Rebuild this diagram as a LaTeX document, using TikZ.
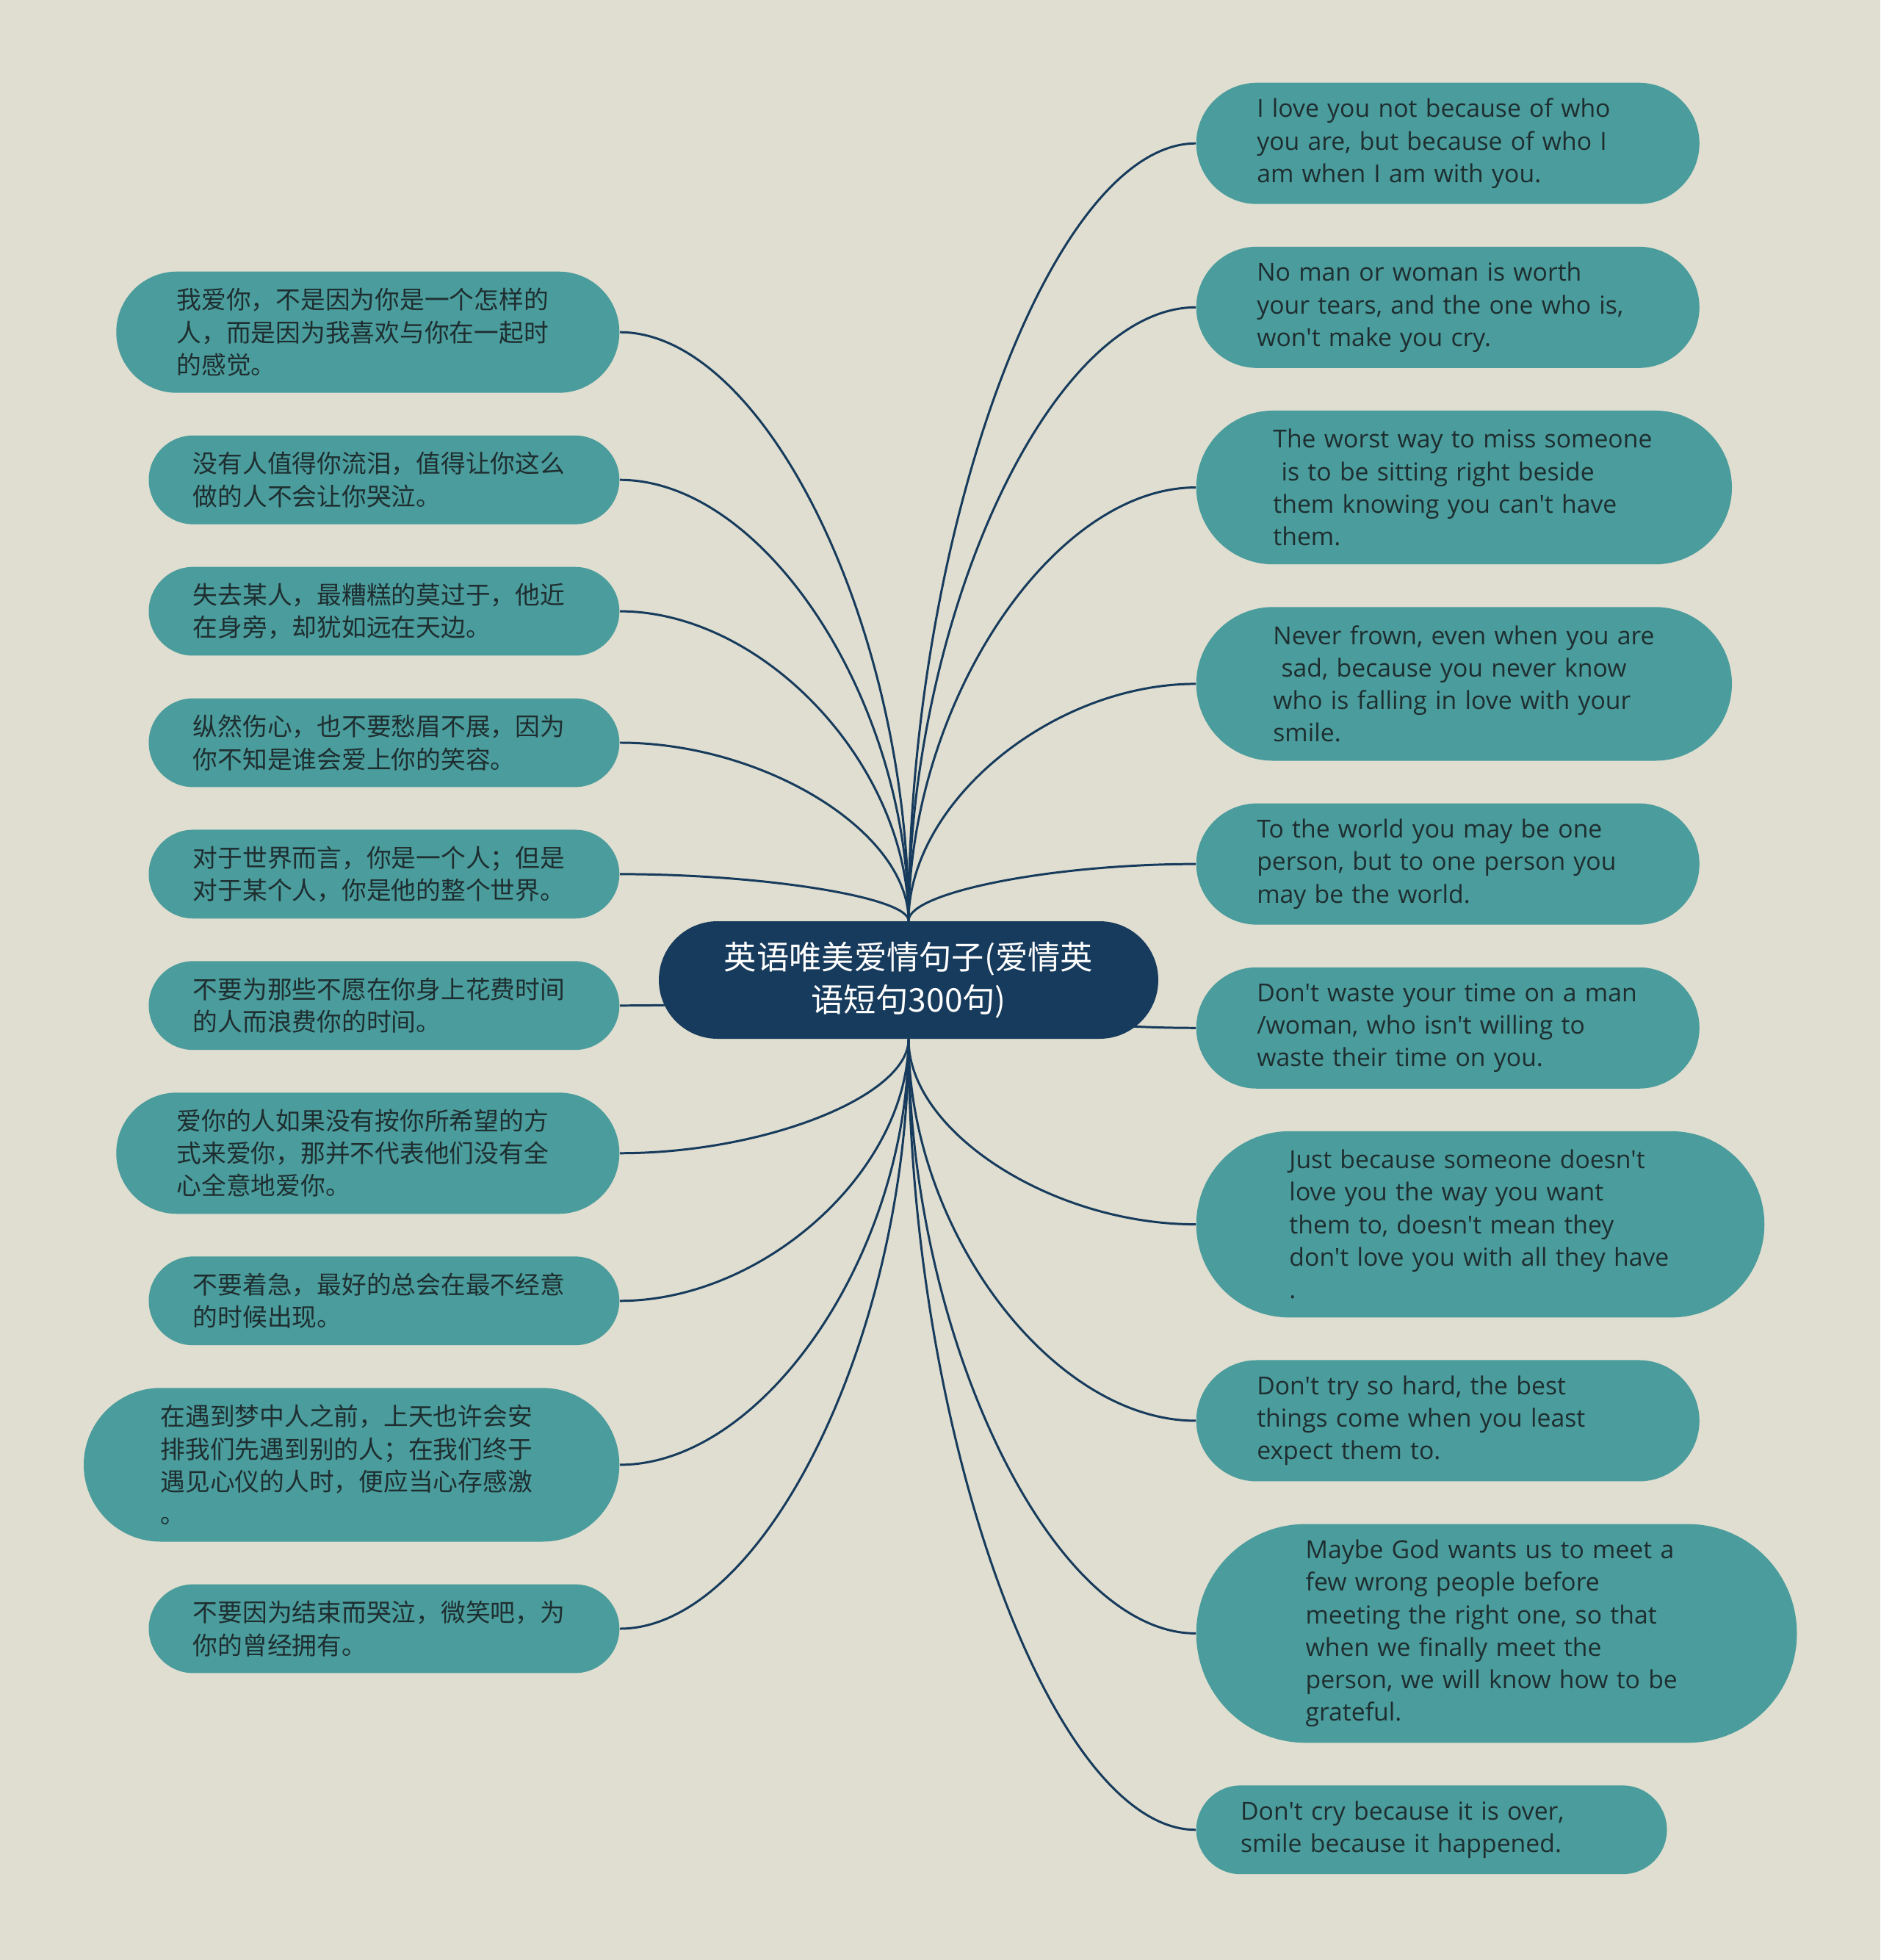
\documentclass[tikz,border=0pt]{standalone}
\usepackage{fontspec}
\setmainfont{Open Sans}[Ligatures=TeXOff]
\newfontfamily\cjk{Noto Sans CJK SC}
\usetikzlibrary{positioning,calc,backgrounds}
\definecolor{mmbg}{HTML}{DFDED0}
\definecolor{mmteal}{HTML}{4B9C9C}
\definecolor{mmnavy}{HTML}{173B5C}
\definecolor{mmtext}{HTML}{1E2E30}
\tikzset{
  root/.style={fill=mmnavy,text=white,rounded corners=0.8cm,minimum height=1.6cm,
               text width=5.2cm,inner xsep=0.8cm,inner ysep=0pt,align=center,
               font=\cjk\fontsize{12.6}{16.45}\selectfont},
  leaf/.style={fill=mmteal,text=mmtext,text width=5.2cm,align=left,inner ysep=0pt,
               font=\fontsize{9.6}{12.58}\selectfont},
  cn/.style={font=\cjk\fontsize{9.6}{12.58}\selectfont},
  nl/.style={minimum height={(0.4423*#1+0.3232)*1cm},
             inner xsep={(0.2212*#1+0.1616)*1cm},
             rounded corners={(0.2212*#1+0.1616)*1cm}},
  link/.style={draw=mmnavy,line width=0.85pt},
}
\begin{document}
\begin{tikzpicture}[node distance=0.567cm]
  \node[root] (c) at (12.37,-13.34) {英语唯美爱情句子(爱情英\\语短句300句)};
  % left side
  \node[leaf,cn,nl=3,anchor=north east] (l1) at (8.44,-3.69)
    {我爱你，不是因为你是一个怎样的\\人，而是因为我喜欢与你在一起时\\的感觉。};
  \node[leaf,cn,nl=2,below=of l1.south east,anchor=north east] (l2)
    {没有人值得你流泪，值得让你这么\\做的人不会让你哭泣。};
  \node[leaf,cn,nl=2,below=of l2.south east,anchor=north east] (l3)
    {失去某人，最糟糕的莫过于，他近\\在身旁，却犹如远在天边。};
  \node[leaf,cn,nl=2,below=of l3.south east,anchor=north east] (l4)
    {纵然伤心，也不要愁眉不展，因为\\你不知是谁会爱上你的笑容。};
  \node[leaf,cn,nl=2,below=of l4.south east,anchor=north east] (l5)
    {对于世界而言，你是一个人；但是\\对于某个人，你是他的整个世界。};
  \node[leaf,cn,nl=2,below=of l5.south east,anchor=north east] (l6)
    {不要为那些不愿在你身上花费时间\\的人而浪费你的时间。};
  \node[leaf,cn,nl=3,below=of l6.south east,anchor=north east] (l7)
    {爱你的人如果没有按你所希望的方\\式来爱你，那并不代表他们没有全\\心全意地爱你。};
  \node[leaf,cn,nl=2,below=of l7.south east,anchor=north east] (l8)
    {不要着急，最好的总会在最不经意\\的时候出现。};
  \node[leaf,cn,nl=4,below=of l8.south east,anchor=north east] (l9)
    {在遇到梦中人之前，上天也许会安\\排我们先遇到别的人；在我们终于\\遇见心仪的人时，便应当心存感激\\。};
  \node[leaf,cn,nl=2,below=of l9.south east,anchor=north east] (l10)
    {不要因为结束而哭泣，微笑吧，为\\你的曾经拥有。};
  % right side
  \node[leaf,nl=3,anchor=north west] (r1) at (16.28,-1.12)
    {I love you not because of who\\you are, but because of who I\\am when I am with you.};
  \node[leaf,nl=3,below=of r1.south west,anchor=north west] (r2)
    {No man or woman is worth\\your tears, and the one who is,\\won't make you cry.};
  \node[leaf,nl=4,below=of r2.south west,anchor=north west] (r3)
    {\mbox{The worst way to miss someone}\\~is to be sitting right beside\\them knowing you can't have\\them.};
  \node[leaf,nl=4,below=of r3.south west,anchor=north west] (r4)
    {\mbox{Never frown, even when you are}\\~sad, because you never know\\\mbox{who is falling in love with your}\\smile.};
  \node[leaf,nl=3,below=of r4.south west,anchor=north west] (r5)
    {To the world you may be one\\person, but to one person you\\may be the world.};
  \node[leaf,nl=3,below=of r5.south west,anchor=north west] (r6)
    {\mbox{Don't waste your time on a man}\\/woman, who isn't willing to\\waste their time on you.};
  \node[leaf,nl=5,below=of r6.south west,anchor=north west] (r7)
    {Just because someone doesn't\\love you the way you want\\them to, doesn't mean they\\\mbox{don't love you with all they have}\\.};
  \node[leaf,nl=3,below=of r7.south west,anchor=north west] (r8)
    {Don't try so hard, the best\\things come when you least\\expect them to.};
  \node[leaf,nl=6,below=of r8.south west,anchor=north west] (r9)
    {Maybe God wants us to meet a\\few wrong people before\\meeting the right one, so that\\when we finally meet the\\\mbox{person, we will know how to be}\\grateful.};
  \node[leaf,nl=2,below=of r9.south west,anchor=north west] (r10)
    {Don't cry because it is over,\\smile because it happened.};
  \begin{scope}[on background layer]
    \fill[mmbg] (0,0) rectangle (25.6,-26.68);
    % branches
    \foreach \n/\s in {l1/north,l2/north,l3/north,l4/north,l5/north,l6/center,
                       l7/south,l8/south,l9/south,l10/south}
      \draw[link] (c.\s) .. controls ($(c.\s)!0.5!(c.\s |- \n.east)$)
        and ($(c.\s |- \n.east)!0.5!(\n.east)$) .. (\n.east);
    \foreach \n/\s in {r1/north,r2/north,r3/north,r4/north,r5/north,r6/center,
                       r7/south,r8/south,r9/south,r10/south}
      \draw[link] (c.\s) .. controls ($(c.\s)!0.5!(c.\s |- \n.west)$)
        and ($(c.\s |- \n.west)!0.5!(\n.west)$) .. (\n.west);
  \end{scope}
\end{tikzpicture}
\end{document}
